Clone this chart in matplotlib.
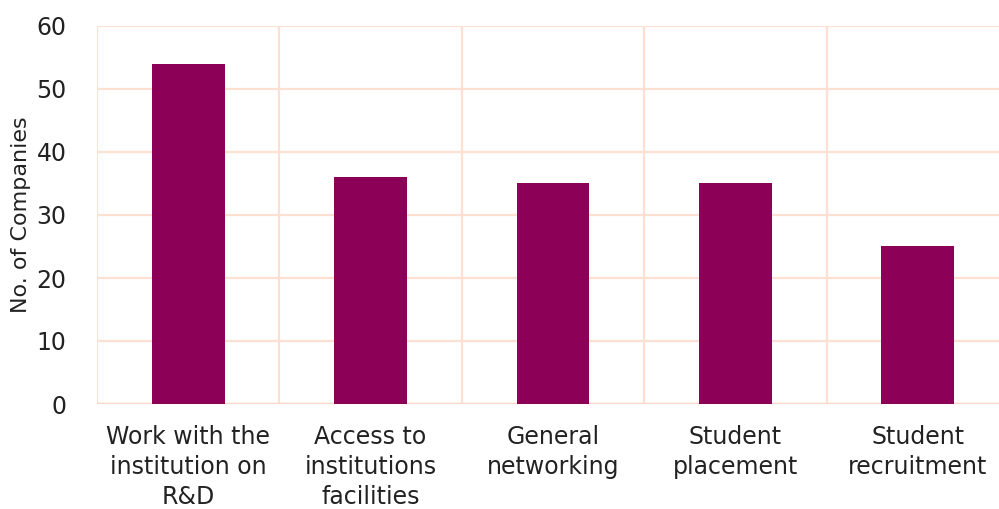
import matplotlib
matplotlib.use("Agg")
import matplotlib.pyplot as plt

categories = [
    "Work with the\ninstitution on\nR&D",
    "Access to\ninstitutions\nfacilities",
    "General\nnetworking",
    "Student\nplacement",
    "Student\nrecruitment",
]
companies = [54, 36, 35, 35, 25]
y_ticks = [0, 10, 20, 30, 40, 50, 60]

BAR_COLOR = "#8c0057"
GRID_COLOR = "#fde0d2"

fig = plt.figure(figsize=(9.99, 5.09), dpi=100)
ax = fig.add_axes([97 / 999, 1 - 404 / 509, (1009 - 97) / 999, (404 - 26) / 509])

x = list(range(len(categories)))
ax.bar(x, companies, width=0.4, color=BAR_COLOR, zorder=3)

ax.set_xlim(-0.5, len(categories) - 0.5)
ax.set_ylim(0, 60)
ax.set_yticks(y_ticks)
ax.set_xticks(x)
ax.set_xticklabels(categories, fontsize=17, color="#222222", linespacing=1.32)
ax.tick_params(axis="y", length=0, pad=22, labelsize=17, labelcolor="#222222")
ax.tick_params(axis="x", length=0, pad=15)

# horizontal grid at every tick, vertical separators between categories
ax.yaxis.grid(True, color=GRID_COLOR, linewidth=1.6, zorder=0)
for b in [i - 0.5 for i in range(len(categories) + 1)]:
    ax.axvline(b, color=GRID_COLOR, linewidth=1.6, zorder=0)
for side in ax.spines.values():
    side.set_visible(False)
ax.axhline(0, color="#fcd6c4", linewidth=2.4, zorder=2)

ax.set_ylabel("No. of Companies", fontsize=16, color="#222222")
ax.yaxis.set_label_coords(-0.072, 0.5)

fig.savefig("out.png", dpi=100)
